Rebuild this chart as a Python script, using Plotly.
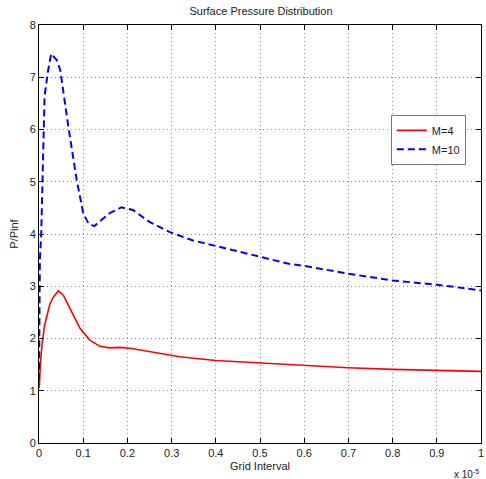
import plotly.graph_objects as go

# x in units of 1e-5
x_m4 = [0.0, 0.001, 0.003, 0.007, 0.0126, 0.02, 0.025, 0.033, 0.044, 0.055, 0.07, 0.093,
        0.115, 0.138, 0.16, 0.183, 0.21, 0.25, 0.318, 0.40, 0.50, 0.60, 0.70, 0.80, 0.90, 1.0]
y_m4 = [1.05, 1.1, 1.5, 1.9, 2.25, 2.5, 2.67, 2.80, 2.91, 2.83, 2.57, 2.19,
        1.97, 1.85, 1.82, 1.83, 1.81, 1.75, 1.65, 1.58, 1.53, 1.48, 1.44, 1.41, 1.39, 1.37]

x_m10 = [0.0, 0.001, 0.002, 0.005, 0.0075, 0.0103, 0.0126, 0.02, 0.0276, 0.040, 0.048, 0.0665,
         0.0854, 0.100, 0.112, 0.125, 0.140, 0.160, 0.1865, 0.2126, 0.25, 0.295, 0.347, 0.40,
         0.46, 0.505, 0.565, 0.60, 0.70, 0.80, 0.90, 1.0]
y_m10 = [1.2, 2.5, 3.5, 4.0, 5.0, 6.1, 6.63, 7.1, 7.45, 7.33, 7.14, 6.05,
         5.03, 4.40, 4.20, 4.15, 4.25, 4.40, 4.51, 4.46, 4.23, 4.04, 3.88, 3.77,
         3.64, 3.55, 3.43, 3.39, 3.24, 3.11, 3.03, 2.92]

x_ticks = [0, 0.1, 0.2, 0.3, 0.4, 0.5, 0.6, 0.7, 0.8, 0.9, 1]
x_tick_labels = ["0", "0.1", "0.2", "0.3", "0.4", "0.5", "0.6", "0.7", "0.8", "0.9", "1"]
y_ticks = [0, 1, 2, 3, 4, 5, 6, 7, 8]

FONT = "Liberation Sans, Arial, sans-serif"

fig = go.Figure()
fig.add_trace(go.Scatter(x=x_m4, y=y_m4, mode="lines", name="M=4",
                         line=dict(color="#ff0000", width=1.6)))
fig.add_trace(go.Scatter(x=x_m10, y=y_m10, mode="lines", name="M=10",
                         line=dict(color="#0000ff", width=2, dash="7px,4px")))

axis_common = dict(showline=True, linecolor="black", linewidth=1, mirror="allticks",
                   ticks="inside", ticklen=5, tickcolor="black",
                   showgrid=True, gridcolor="#8a8a8a", griddash="1px,3px", gridwidth=1,
                   zeroline=False, ticklabeloverflow="allow",
                   tickfont=dict(family=FONT, size=11, color="#222222"))

fig.update_layout(
    width=486, height=479,
    margin=dict(l=39, r=2, t=25, b=36),
    paper_bgcolor="white", plot_bgcolor="white",
    title=dict(text="Surface Pressure Distribution", x=0.537, xanchor="center",
               y=0.976, yanchor="middle",
               font=dict(family=FONT, size=11, color="#222222")),
    xaxis=dict(range=[0, 1], tickvals=x_ticks, ticktext=x_tick_labels,
               title=dict(text="Grid Interval", standoff=4,
                          font=dict(family=FONT, size=11, color="#222222")),
               **axis_common),
    yaxis=dict(range=[0, 8], tickvals=y_ticks,
               title=dict(text="P/Pinf", standoff=8,
                          font=dict(family=FONT, size=11, color="#222222")),
               **axis_common),
    legend=dict(x=0.796, y=0.785, xanchor="left", yanchor="top",
                bgcolor="white", bordercolor="#777777", borderwidth=1,
                font=dict(family=FONT, size=11, color="#222222"),
                tracegroupgap=0, itemwidth=30),
    showlegend=True,
)

fig.add_annotation(text="x 10<sup>-5</sup>", xref="paper", yref="paper",
                   x=0.999, y=-0.074, xanchor="right", yanchor="middle", showarrow=False,
                   font=dict(family=FONT, size=10, color="#222222"))

fig.write_html("out.html")
